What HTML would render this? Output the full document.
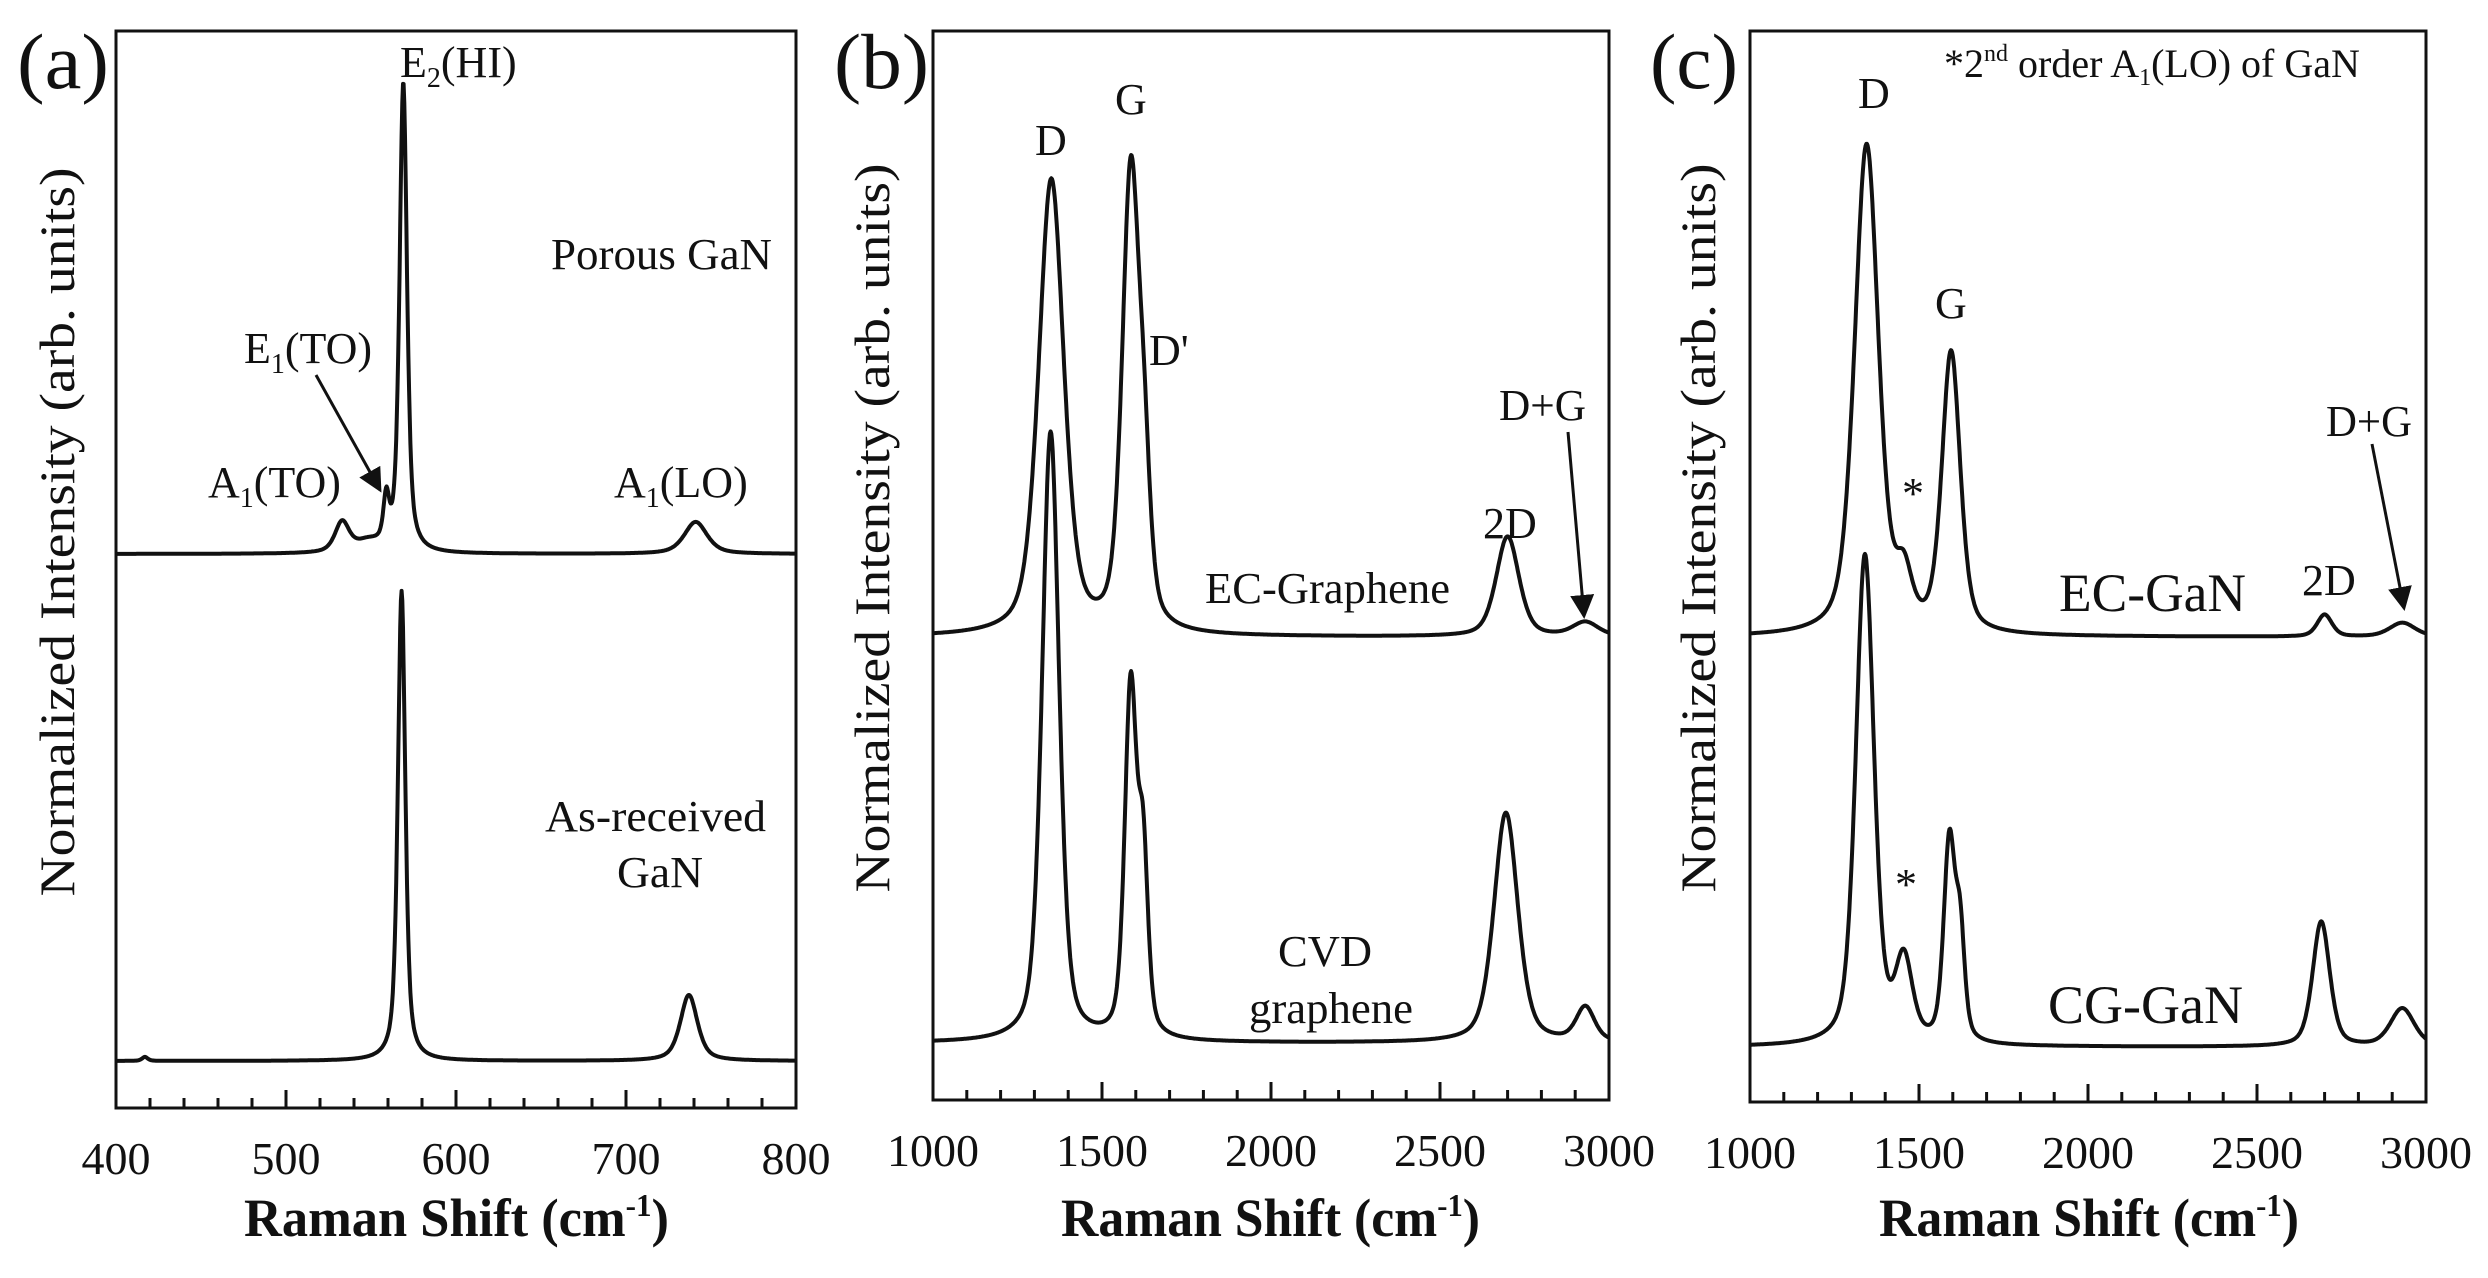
<!DOCTYPE html>
<html><head><meta charset="utf-8"><style>
html,body{margin:0;padding:0;background:#fff;}
svg{display:block;}
text{font-family:"Liberation Serif",serif;fill:#111;}
</style></head><body>
<svg id="s" width="2488" height="1278" viewBox="0 0 2488 1278" xmlns="http://www.w3.org/2000/svg">
<g fill="none" stroke="#111" stroke-width="3">
<rect x="116" y="31" width="680" height="1077"/>
<rect x="933" y="31" width="676" height="1069"/>
<rect x="1750" y="31" width="676" height="1071"/>
</g>
<g id="ticks" stroke="#111" stroke-width="3"></g>
<g id="curves" fill="none" stroke="#111" stroke-width="4" stroke-linejoin="round"></g>
<text x="17" y="88" font-size="78" textLength="92" lengthAdjust="spacingAndGlyphs">(a)</text>
<text x="834" y="88" font-size="78" textLength="95" lengthAdjust="spacingAndGlyphs">(b)</text>
<text x="1650" y="88" font-size="78" textLength="88" lengthAdjust="spacingAndGlyphs">(c)</text>
<text transform="translate(74,532) rotate(-90)" text-anchor="middle" font-size="50" textLength="729" lengthAdjust="spacingAndGlyphs">Normalized Intensity (arb. units)</text>
<text transform="translate(889,528) rotate(-90)" text-anchor="middle" font-size="50" textLength="729" lengthAdjust="spacingAndGlyphs">Normalized Intensity (arb. units)</text>
<text transform="translate(1715,528) rotate(-90)" text-anchor="middle" font-size="50" textLength="729" lengthAdjust="spacingAndGlyphs">Normalized Intensity (arb. units)</text>
<text x="244" y="1236" font-size="54" font-weight="bold" textLength="425" lengthAdjust="spacingAndGlyphs">Raman Shift (cm<tspan dy="-20" font-size="32">-1</tspan><tspan dy="20">)</tspan></text>
<text x="1061" y="1236" font-size="54" font-weight="bold" textLength="419" lengthAdjust="spacingAndGlyphs">Raman Shift (cm<tspan dy="-20" font-size="32">-1</tspan><tspan dy="20">)</tspan></text>
<text x="1879" y="1236" font-size="54" font-weight="bold" textLength="420" lengthAdjust="spacingAndGlyphs">Raman Shift (cm<tspan dy="-20" font-size="32">-1</tspan><tspan dy="20">)</tspan></text>
<g id="labels" font-size="46" text-anchor="middle"></g>
<g font-size="44">
<text x="400" y="77">E<tspan font-size="28" dy="10">2</tspan><tspan dy="-10">(HI)</tspan></text>
<text x="551" y="269" textLength="221" lengthAdjust="spacingAndGlyphs">Porous GaN</text>
<text x="244" y="363">E<tspan font-size="28" dy="10">1</tspan><tspan dy="-10">(TO)</tspan></text>
<text x="208" y="497">A<tspan font-size="28" dy="10">1</tspan><tspan dy="-10">(TO)</tspan></text>
<text x="614" y="497">A<tspan font-size="28" dy="10">1</tspan><tspan dy="-10">(LO)</tspan></text>
<text x="545" y="831" textLength="221" lengthAdjust="spacingAndGlyphs">As-received</text>
<text x="617" y="887" textLength="86" lengthAdjust="spacingAndGlyphs">GaN</text>
<text x="1035" y="155">D</text>
<text x="1115" y="114">G</text>
<text x="1149" y="365">D'</text>
<text x="1499" y="420" textLength="87" lengthAdjust="spacingAndGlyphs">D+G</text>
<text x="1483" y="538">2D</text>
<text x="1205" y="603" textLength="245" lengthAdjust="spacingAndGlyphs">EC-Graphene</text>
<text x="1278" y="966" textLength="94" lengthAdjust="spacingAndGlyphs">CVD</text>
<text x="1249" y="1023" textLength="164" lengthAdjust="spacingAndGlyphs">graphene</text>
<text x="1944" y="77" font-size="40">*2<tspan font-size="24" dy="-16">nd</tspan><tspan dy="16"> order A</tspan><tspan font-size="24" dy="8">1</tspan><tspan dy="-8">(LO) of GaN</tspan></text>
<text x="1858" y="108">D</text>
<text x="1935" y="318">G</text>
<text x="1902" y="508">*</text>
<text x="1895" y="899">*</text>
<text x="2326" y="436" textLength="86" lengthAdjust="spacingAndGlyphs">D+G</text>
<text x="2302" y="595">2D</text>
<text x="2059" y="611" font-size="54" textLength="187" lengthAdjust="spacingAndGlyphs">EC-GaN</text>
<text x="2048" y="1023" font-size="54" textLength="195" lengthAdjust="spacingAndGlyphs">CG-GaN</text>
</g>
<defs><marker id="ar" markerWidth="8" markerHeight="8" refX="7" refY="4" orient="auto" markerUnits="strokeWidth"><path d="M0,0 L8,4 L0,8 z" fill="#111"/></marker></defs>
<g stroke="#111" stroke-width="3" marker-end="url(#ar)">
<line x1="316" y1="375" x2="380" y2="490"/>
<line x1="1568" y1="432" x2="1584" y2="616"/>
<line x1="2372" y1="444" x2="2404" y2="608"/>
</g>
</svg>
<script>
var NS="http://www.w3.org/2000/svg";
function pv(x,c,a,w,e){var d=(x-c)/w;return a*(e/(1+d*d)+(1-e)*Math.exp(-0.693*d*d));}
var panels=[
 {x0:116,x1:796,v0:400,v1:800,bot:1108,maj:100,min:20,e:0.6,series:[
  {b:554,p:[[569,470,2.6],[533,30,5],[559,45,2],[548,10,9],[741,32,8]]},
  {b:1061,p:[[568,470,2.6],[737,66,6],[417,4,2]]}]},
 {x0:933,x1:1609,v0:1000,v1:3000,bot:1100,maj:500,min:100,e:0.45,series:[
  {b:637,p:[[1350,455,44],[1585,455,30],[1625,120,22],[2700,100,40],[2930,14,45]]},
  {b:1043,p:[[1348,610,30],[1585,350,21],[1622,170,17],[2695,230,42],[2930,34,32]]}]},
 {x0:1750,x1:2426,v0:1000,v1:3000,bot:1102,maj:500,min:100,e:0.45,series:[
  {b:637,p:[[1345,490,42],[1455,50,28],[1595,280,32],[2700,22,26],[2930,14,45]]},
  {b:1047,p:[[1340,490,32],[1455,80,30],[1590,200,20],[1622,100,16],[2690,125,30],[2930,38,42]]}]}
];
var cg=document.getElementById("curves"),tg=document.getElementById("ticks"),lg=document.getElementById("labels");
panels.forEach(function(P){
 var sx=function(v){return P.x0+(v-P.v0)/(P.v1-P.v0)*(P.x1-P.x0);};
 P.series.forEach(function(S){
  var d="",N=1000;
  for(var i=0;i<=N;i++){var v=P.v0+(P.v1-P.v0)*i/N;var y=S.b;
   S.p.forEach(function(q){y-=pv(v,q[0],q[1],q[2],P.e);});
   d+=(i?"L":"M")+sx(v).toFixed(1)+","+y.toFixed(1);}
  var pa=document.createElementNS(NS,"path");pa.setAttribute("d",d);cg.appendChild(pa);
 });
 for(var v=P.v0;v<=P.v1+1e-6;v+=P.min){
  var major=Math.abs(v/P.maj-Math.round(v/P.maj))<1e-6;
  var l=document.createElementNS(NS,"line");var x=sx(v);
  l.setAttribute("x1",x);l.setAttribute("x2",x);l.setAttribute("y1",P.bot);l.setAttribute("y2",P.bot-(major?18:10));tg.appendChild(l);
  if(major){var t=document.createElementNS(NS,"text");t.setAttribute("x",x);t.setAttribute("y",P.bot+66);t.textContent=String(v);lg.appendChild(t);}
 }
});
</script>
</body></html>
